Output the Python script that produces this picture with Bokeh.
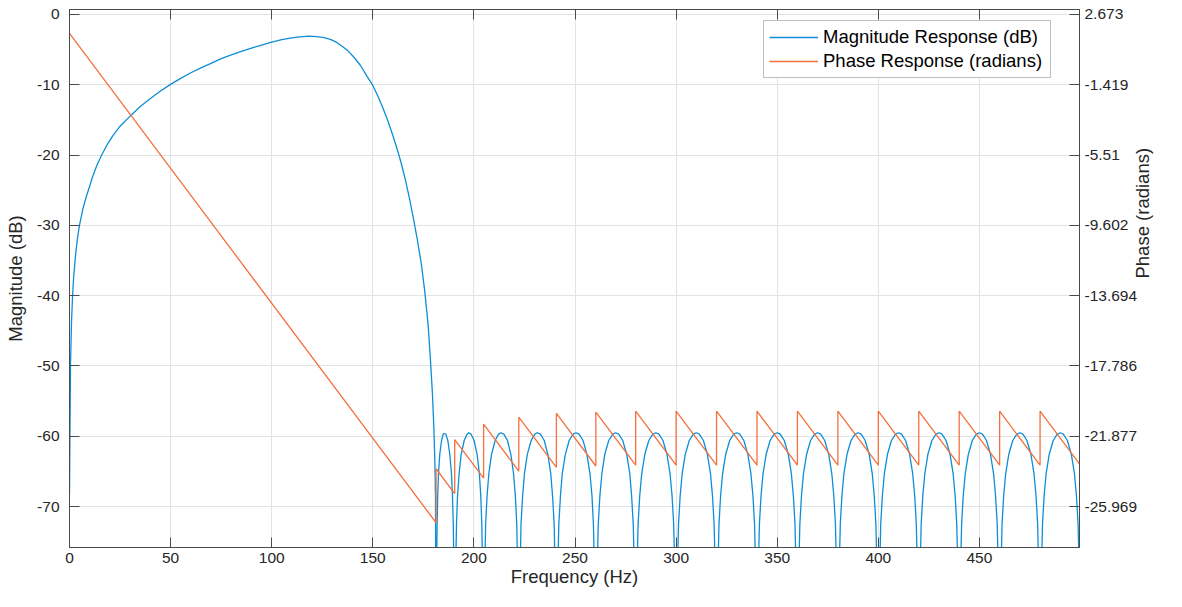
import math
from bokeh.plotting import figure
from bokeh.models import Range1d, LinearAxis, FixedTicker, Legend, LegendItem
from bokeh.embed import file_html
from bokeh.resources import INLINE

# ---------------- data ----------------
x_ticks = [0, 50, 100, 150, 200, 250, 300, 350, 400, 450]
x_tick_labels = ["0", "50", "100", "150", "200", "250", "300", "350", "400", "450"]
mag_ticks = [0, -10, -20, -30, -40, -50, -60, -70]
mag_tick_labels = ["0", "-10", "-20", "-30", "-40", "-50", "-60", "-70"]
phase_ticks = [2.673, -1.419, -5.51, -9.602, -13.694, -17.786, -21.877, -25.969]
phase_tick_labels = ["2.673", "-1.419", "-5.51", "-9.602", "-13.694", "-17.786", "-21.877", "-25.969"]

# Magnitude response (dB)
mag_freq = [
    0.0, 0.5, 1.0, 1.5, 2.0, 3.0, 4.0, 5.0, 6.5, 8.2, 10.0, 11.3, 13.5, 15.9, 18.5, 21.3, 25.0, 30.2,
    35.0, 40.0, 45.0, 50.0, 55.0, 60.0, 65.0, 70.0, 75.0, 80.0, 85.0, 90.0, 95.0, 100.0, 105.0, 110.0,
    114.0, 118.5, 122.0, 125.5, 129.0, 132.0, 135.0, 138.0, 141.0, 144.0, 147.0, 150.0, 152.5, 155.0,
    157.5, 160.0, 162.0, 164.0, 166.0, 168.0, 170.0, 172.0, 174.0, 175.7, 177.4, 178.5, 179.5, 180.2,
    180.7, 181.0, 181.3,
    181.5, 181.8, 182.1, 182.5, 183.1, 184.0, 184.8, 185.4, 186.1, 187.1, 188.1, 188.9, 189.4, 189.8, 190.2, 190.5,
    190.9, 191.4, 191.9, 192.7, 193.7, 195.2, 196.6, 197.5, 198.6, 200.1, 201.6, 202.7, 203.4, 203.9, 204.4, 204.8,
    205.3, 205.8, 206.5, 207.4, 208.7, 210.5, 212.2, 213.4, 214.8, 216.6, 218.3, 219.6, 220.5, 221.2, 221.7, 222.2,
    222.8, 223.3, 224.1, 225.0, 226.4, 228.3, 230.1, 231.3, 232.9, 234.8, 236.6, 238.0, 238.9, 239.7, 240.2, 240.8,
    241.4, 242.0, 242.8, 243.7, 245.2, 247.1, 249.1, 250.5, 252.0, 254.0, 255.9, 257.4, 258.4, 259.1, 259.7, 260.3,
    260.9, 261.5, 262.3, 263.3, 264.7, 266.7, 268.7, 270.1, 271.6, 273.6, 275.6, 277.1, 278.0, 278.8, 279.4, 280.0,
    280.6, 281.2, 282.0, 283.0, 284.5, 286.5, 288.5, 290.0, 291.5, 293.5, 295.5, 297.0, 298.0, 298.8, 299.4, 300.0,
    300.6, 301.2, 302.0, 303.0, 304.5, 306.5, 308.5, 310.0, 311.5, 313.5, 315.5, 317.0, 318.0, 318.8, 319.4, 320.0,
    320.6, 321.2, 322.0, 323.0, 324.5, 326.5, 328.5, 330.0, 331.5, 333.5, 335.5, 337.0, 338.0, 338.8, 339.4, 340.0,
    340.6, 341.2, 342.0, 343.0, 344.5, 346.5, 348.5, 350.0, 351.5, 353.5, 355.5, 357.0, 358.0, 358.8, 359.4, 360.0,
    360.6, 361.2, 362.0, 363.0, 364.5, 366.5, 368.5, 370.0, 371.5, 373.5, 375.5, 377.0, 378.0, 378.8, 379.4, 380.0,
    380.6, 381.2, 382.0, 383.0, 384.5, 386.5, 388.5, 390.0, 391.5, 393.5, 395.5, 397.0, 398.0, 398.8, 399.4, 400.0,
    400.6, 401.2, 402.0, 403.0, 404.5, 406.5, 408.5, 410.0, 411.5, 413.5, 415.5, 417.0, 418.0, 418.8, 419.4, 420.0,
    420.6, 421.2, 422.0, 423.0, 424.5, 426.5, 428.5, 430.0, 431.5, 433.5, 435.5, 437.0, 438.0, 438.8, 439.4, 440.0,
    440.6, 441.2, 442.0, 443.0, 444.5, 446.5, 448.5, 450.0, 451.5, 453.5, 455.5, 457.0, 458.0, 458.8, 459.4, 460.0,
    460.6, 461.2, 462.0, 463.0, 464.5, 466.5, 468.5, 470.0, 471.5, 473.5, 475.5, 477.0, 478.0, 478.8, 479.4, 480.0,
    480.6, 481.2, 482.0, 483.0, 484.5, 486.5, 488.5, 490.0, 491.5, 493.5, 495.5, 497.0, 498.0, 498.8, 499.4, 500.0,
]
mag_db = [
    -68.2, -49.7, -43.7, -40.2, -37.6, -34.2, -31.7, -29.9, -27.8, -26.0, -24.4, -23.2, -21.5, -20.0, -18.6, -17.3, -15.9, -14.4,
    -13.1, -11.95, -10.9, -9.95, -9.1, -8.3, -7.6, -6.95, -6.3, -5.75, -5.25, -4.8, -4.35, -3.95, -3.6, -3.35,
    -3.2, -3.1, -3.15, -3.25, -3.55, -3.95, -4.55, -5.25, -6.2, -7.3, -8.75, -10.1, -11.6, -13.3,
    -15.2, -17.3, -19.1, -21.1, -23.4, -26.0, -28.9, -32.0, -35.5, -39.4, -44.3, -49.1, -54.0, -58.8,
    -63.7, -68.5, -100.0,
    -80.0, -72.5, -68.5, -65.3, -62.6, -60.6, -59.7, -59.6, -59.7, -60.6, -62.6, -65.3, -68.5, -72.5, -80.0, -100.0,
    -80.0, -72.5, -68.5, -65.3, -62.6, -60.6, -59.7, -59.5, -59.7, -60.6, -62.6, -65.3, -68.5, -72.5, -80.0, -100.0,
    -80.0, -72.5, -68.5, -65.3, -62.6, -60.6, -59.7, -59.5, -59.7, -60.6, -62.6, -65.3, -68.5, -72.5, -80.0, -100.0,
    -80.0, -72.5, -68.5, -65.3, -62.6, -60.6, -59.7, -59.5, -59.7, -60.6, -62.6, -65.3, -68.5, -72.5, -80.0, -100.0,
    -80.0, -72.5, -68.5, -65.3, -62.6, -60.6, -59.7, -59.5, -59.7, -60.6, -62.6, -65.3, -68.5, -72.5, -80.0, -100.0,
    -80.0, -72.5, -68.5, -65.3, -62.6, -60.6, -59.7, -59.5, -59.7, -60.6, -62.6, -65.3, -68.5, -72.5, -80.0, -100.0,
    -80.0, -72.5, -68.5, -65.3, -62.6, -60.6, -59.7, -59.5, -59.7, -60.6, -62.6, -65.3, -68.5, -72.5, -80.0, -100.0,
    -80.0, -72.5, -68.5, -65.3, -62.6, -60.6, -59.7, -59.5, -59.7, -60.6, -62.6, -65.3, -68.5, -72.5, -80.0, -100.0,
    -80.0, -72.5, -68.5, -65.3, -62.6, -60.6, -59.7, -59.5, -59.7, -60.6, -62.6, -65.3, -68.5, -72.5, -80.0, -100.0,
    -80.0, -72.5, -68.5, -65.3, -62.6, -60.6, -59.7, -59.5, -59.7, -60.6, -62.6, -65.3, -68.5, -72.5, -80.0, -100.0,
    -80.0, -72.5, -68.5, -65.3, -62.6, -60.6, -59.7, -59.5, -59.7, -60.6, -62.6, -65.3, -68.5, -72.5, -80.0, -100.0,
    -80.0, -72.5, -68.5, -65.3, -62.6, -60.6, -59.7, -59.5, -59.7, -60.6, -62.6, -65.3, -68.5, -72.5, -80.0, -100.0,
    -80.0, -72.5, -68.5, -65.3, -62.6, -60.6, -59.7, -59.5, -59.7, -60.6, -62.6, -65.3, -68.5, -72.5, -80.0, -100.0,
    -80.0, -72.5, -68.5, -65.3, -62.6, -60.6, -59.7, -59.5, -59.7, -60.6, -62.6, -65.3, -68.5, -72.5, -80.0, -100.0,
    -80.0, -72.5, -68.5, -65.3, -62.6, -60.6, -59.7, -59.5, -59.7, -60.6, -62.6, -65.3, -68.5, -72.5, -80.0, -100.0,
    -80.0, -72.5, -68.5, -65.3, -62.6, -60.6, -59.7, -59.5, -59.7, -60.6, -62.6, -65.3, -68.5, -72.5, -80.0, -100.0,
    -80.0, -72.5, -68.5, -65.3, -62.6, -60.6, -59.7, -59.5, -59.7, -60.6, -62.6, -65.3, -68.5, -72.5, -80.0, -100.0,
]

# Phase response (radians), vertices of the sawtooth
phase_freq = [
    0.0, 181.3, 181.3, 190.5, 190.5, 204.8, 204.8, 222.2, 222.2, 240.8, 240.8, 260.3, 260.3,
    280.0, 280.0, 300.0, 300.0, 320.0, 320.0, 340.0, 340.0, 360.0, 360.0, 380.0, 380.0,
    400.0, 400.0, 420.0, 420.0, 440.0, 440.0, 460.0, 460.0, 480.0, 480.0, 499.5,
]
phase_rad = [
    1.571, -26.908, -23.766, -25.211, -22.069, -24.315, -21.173, -23.906, -20.764, -23.686, -20.544, -23.607, -20.465,
    -23.559, -20.417, -23.559, -20.417, -23.559, -20.417, -23.559, -20.417, -23.559, -20.417, -23.559, -20.417,
    -23.559, -20.417, -23.559, -20.417, -23.559, -20.417, -23.559, -20.417, -23.559, -20.417, -23.480,
]

series_names = ["Magnitude Response (dB)", "Phase Response (radians)"]

# ---------------- styling ----------------
FONT = "Liberation Sans"
AX = "#4a4a4a"
TXT = "#262626"
BLUE = "#0D8ED6"
ORANGE = "#F4703C"
GRID = "#e3e3e3"

W, H = 1166, 591
B_LEFT, B_RIGHT, B_TOP, B_BOTTOM = 69, 86, 9, 44

p = figure(width=W, height=H, output_backend="svg", toolbar_location=None,
           x_range=Range1d(0, 499.5), y_range=Range1d(-75.82, 0.70),
           min_border_left=B_LEFT, min_border_right=B_RIGHT,
           min_border_top=B_TOP, min_border_bottom=B_BOTTOM)
p.extra_y_ranges = {"phase": Range1d(-28.349, 2.959)}
p.background_fill_color = "white"
p.border_fill_color = "white"
p.outline_line_color = AX
p.outline_line_width = 1

def style_axis(ax, ticks, labels):
    ax.ticker = FixedTicker(ticks=ticks)
    ax.major_label_overrides = {t: l for t, l in zip(ticks, labels)}
    ax.major_tick_in = 10
    ax.major_tick_out = 0
    ax.minor_tick_in = 0
    ax.minor_tick_out = 0
    ax.axis_line_color = AX
    ax.major_tick_line_color = AX
    ax.major_label_text_font = FONT
    ax.major_label_text_font_size = "15.5px"
    ax.major_label_text_color = TXT
    ax.axis_label_text_font = FONT
    ax.axis_label_text_font_size = "18.5px"
    ax.axis_label_text_font_style = "normal"
    ax.axis_label_text_color = TXT

xa = p.xaxis[0]
style_axis(xa, x_ticks, x_tick_labels)
xa.axis_label = "Frequency (Hz)"
xa.major_label_standoff = 5
xa.axis_label_standoff = 0

ya = p.yaxis[0]
style_axis(ya, mag_ticks, mag_tick_labels)
ya.axis_label = "Magnitude (dB)"
ya.major_label_standoff = 10
ya.axis_label_standoff = 8

ra = LinearAxis(y_range_name="phase")
style_axis(ra, phase_ticks, phase_tick_labels)
ra.axis_label = "Phase (radians)"
ra.major_label_standoff = 5
ra.axis_label_standoff = 2
if "axis_label_orientation" in ra.properties():
    ra.axis_label_orientation = math.pi / 2
p.add_layout(ra, "right")

ta = LinearAxis()
style_axis(ta, x_ticks, [""] * len(x_ticks))
ta.major_label_text_font_size = "0px"
ta.major_label_standoff = 0
p.add_layout(ta, "above")

p.xgrid.ticker = FixedTicker(ticks=x_ticks)
p.ygrid.ticker = FixedTicker(ticks=mag_ticks)
for g in (p.xgrid[0], p.ygrid[0]):
    g.grid_line_color = GRID
    g.grid_line_width = 1

mag_r = p.line(mag_freq, mag_db, line_color=BLUE, line_width=1.3)
ph_r = p.line(phase_freq, phase_rad, y_range_name="phase", line_color=ORANGE, line_width=1.3)

frame_h = H - B_TOP - B_BOTTOM
legend = Legend(items=[LegendItem(label=series_names[0], renderers=[mag_r]),
                       LegendItem(label=series_names[1], renderers=[ph_r])],
                location=(694, frame_h - 13 - 56), margin=0, padding=5, spacing=2,
                glyph_width=49, glyph_height=22, label_height=22, label_width=222,
                label_standoff=5, label_text_font=FONT, label_text_font_size="18.5px",
                label_text_color="#000000", border_line_color="#808080", border_line_width=1,
                background_fill_color="white", background_fill_alpha=1.0)
p.add_layout(legend)

open("out.html", "w").write(file_html(p, INLINE))
